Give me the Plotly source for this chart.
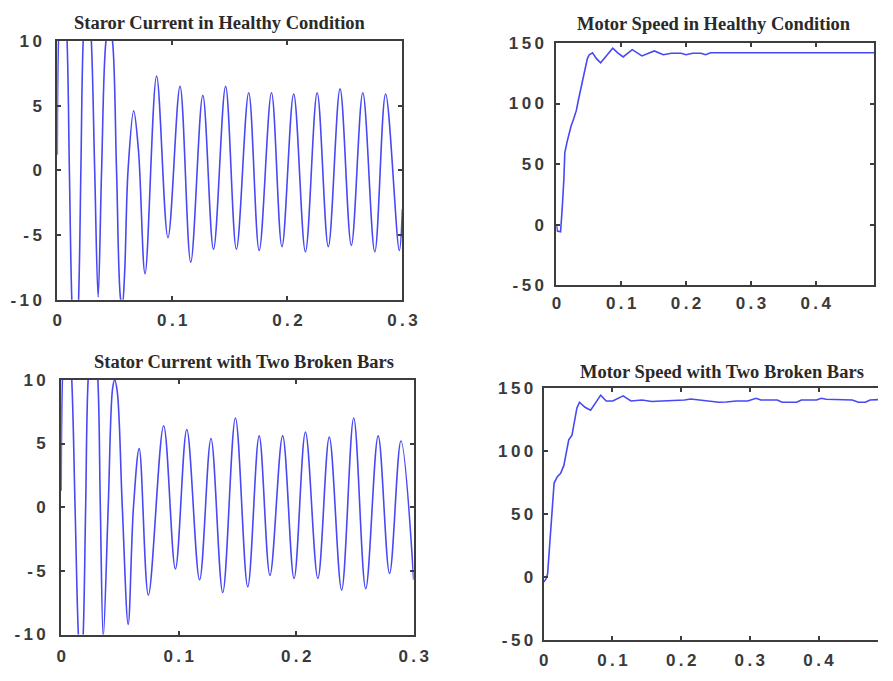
import plotly.graph_objects as go

W, H = 893, 681

# ---------------- data ----------------
cur_healthy_t = [0, 0.001, 0.0045, 0.0085, 0.0105, 0.0126, 0.0155, 0.0185, 0.0205, 0.0225,
                 0.026, 0.0296, 0.0325, 0.0355, 0.0385, 0.0423, 0.0452, 0.048, 0.0515, 0.0551,
                 0.0565, 0.0585, 0.0615, 0.0664, 0.0706, 0.0763, 0.0863, 0.0962, 0.1067, 0.1160,
                 0.1265, 0.1358, 0.1463, 0.1557, 0.1664, 0.1755, 0.1862, 0.1953, 0.2055, 0.2157,
                 0.2259, 0.2356, 0.2458, 0.2556, 0.2656, 0.2760, 0.2854, 0.2973, 0.300]
cur_healthy_i = [1.2, 10, 17, 10, 0, -10, -16, -10, 0, 10,
                 15, 10, 0, -9.8, 0, 10, 11.3, 10, 0, -10,
                 -10.4, -8, 0, 4.6, 1.5, -8.0, 7.3, -5.2, 6.5, -7.1,
                 5.8, -6.1, 6.5, -6.1, 6.0, -6.2, 6.0, -5.9, 5.9, -6.3,
                 6.0, -5.9, 6.3, -5.8, 6.0, -6.3, 5.9, -6.2, -3.0]

cur_broken_t = [0, 0.001, 0.0045, 0.009, 0.0118, 0.0146, 0.0167, 0.0187, 0.0208, 0.0229,
                0.027, 0.0312, 0.0333, 0.0358, 0.040, 0.0437, 0.0455, 0.0478, 0.052, 0.057,
                0.0615, 0.0664, 0.0742, 0.0872, 0.0972, 0.1069, 0.1178, 0.1275, 0.1375, 0.1483,
                0.1588, 0.1685, 0.1777, 0.1885, 0.1982, 0.2079, 0.2185, 0.2282, 0.2387, 0.2490,
                0.2592, 0.2698, 0.2795, 0.2892, 0.300]
cur_broken_i = [1.3, 10, 17, 10, 0, -10, -13, -10, 0, 10,
                15, 10, 0, -10.2, 0, 9.3, 10.0, 9.0, 0, -9.2,
                0, 4.6, -6.9, 6.4, -4.85, 6.1, -5.7, 5.4, -6.7, 7.0,
                -6.25, 5.6, -5.35, 5.6, -5.6, 5.9, -5.6, 5.5, -6.5, 7.0,
                -6.4, 5.6, -5.2, 5.2, -5.7]

spd_healthy_t = [0, 0.0015, 0.0065, 0.0075, 0.009, 0.0116, 0.013, 0.0166, 0.0206, 0.0226,
                 0.0267, 0.0307, 0.0347, 0.0367, 0.0407, 0.0442, 0.0478, 0.0508, 0.0558, 0.0618,
                 0.0683, 0.0769, 0.087, 0.0946, 0.103, 0.117, 0.132, 0.151, 0.165, 0.1775,
                 0.1925, 0.200, 0.210, 0.223, 0.230, 0.238, 0.30, 0.40, 0.49]
spd_healthy_v = [0, -5.4, -5.9, 0, 13.4, 37.6, 59.2, 68.5, 78, 81.2,
                 87.4, 94.1, 104.8, 110.2, 118.3, 129, 137.1, 140.3, 141.9, 137.1,
                 133.6, 139.3, 145.7, 141.9, 138.5, 144.5, 139.3, 143.5, 140.3, 141.6,
                 141.6, 140.3, 141.6, 141.6, 140.3, 141.9, 141.9, 141.9, 141.9]

spd_broken_t = [0, 0.003, 0.0057, 0.008, 0.0104, 0.0128, 0.0152, 0.0199, 0.0247, 0.0294,
                0.0332, 0.0365, 0.0412, 0.0445, 0.0484, 0.0522, 0.0602, 0.0683, 0.0768, 0.083,
                0.091, 0.1005, 0.1157, 0.127, 0.143, 0.1575, 0.172, 0.19, 0.205, 0.214,
                0.225, 0.243, 0.255, 0.266, 0.28, 0.297, 0.309, 0.316, 0.34, 0.347,
                0.368, 0.375, 0.397, 0.404, 0.411, 0.449, 0.458, 0.468, 0.475, 0.4865]
spd_broken_v = [-4, -2, 2.3, 20, 40.4, 63.2, 74.6, 79.7, 82.3, 88.6,
                100, 108.9, 112.7, 124.1, 134.3, 138.8, 134.8, 132.5, 139.4, 144.4,
                139.8, 139.8, 143.9, 139.8, 140.6, 139.4, 139.8, 140.2, 140.6, 141.4,
                140.6, 139.8, 138.8, 139.0, 139.8, 139.8, 141.9, 140.6, 140.6, 138.8,
                138.8, 140.6, 140.6, 141.9, 141.1, 140.6, 138.8, 138.8, 140.6, 140.9]

titles = ["Staror Current in Healthy Condition", "Motor Speed in Healthy Condition",
          "Stator Current with Two Broken Bars", "Motor Speed with Two Broken Bars"]

cur_ticks = [-10, -5, 0, 5, 10]
cur_tick_labels = ["-10", "-5", "0", "5", "10"]
spd_ticks = [-50, 0, 50, 100, 150]
spd_tick_labels = ["-50", "0", "50", "100", "150"]
cur_xticks = [0, 0.1, 0.2, 0.3]
cur_xtick_labels = ["0", "0.1", "0.2", "0.3"]
spd_xticks = [0, 0.1, 0.2, 0.3, 0.4]
spd_xtick_labels = ["0", "0.1", "0.2", "0.3", "0.4"]

# ---------------- layout (pixel boxes) ----------------
def xd(a, b):
    return [a / W, b / W]

def yd(top, bottom):
    return [1 - bottom / H, 1 - top / H]

def spaced(labels):
    # the reference typesets tick labels with wide letter spacing
    return ["\u2009".join(list(s)) for s in labels]

LINE = "rgb(72,72,245)"
FRAME = "#3d3d3d"
tickfont = dict(family="Liberation Sans, Arial", size=17, color="#3a3a3a", weight="bold")

def ax(domain, anchor, rng, tickvals, ticktext, mirror="ticks", standoff=0):
    return dict(domain=domain, anchor=anchor, range=rng, tickvals=tickvals,
                ticktext=spaced(ticktext),
                showline=True, linecolor=FRAME, linewidth=2, mirror=mirror,
                ticks="inside", ticklen=4, tickwidth=1.5, tickcolor=FRAME,
                showgrid=False, zeroline=False, tickfont=tickfont,
                ticklabelstandoff=standoff, fixedrange=True)

fig = go.Figure()
fig.add_trace(go.Scatter(x=cur_healthy_t, y=cur_healthy_i, mode="lines",
                         line=dict(color=LINE, width=1.6, shape="spline"), xaxis="x", yaxis="y"))
fig.add_trace(go.Scatter(x=spd_healthy_t, y=spd_healthy_v, mode="lines",
                         line=dict(color=LINE, width=1.6), xaxis="x2", yaxis="y2"))
fig.add_trace(go.Scatter(x=cur_broken_t, y=cur_broken_i, mode="lines",
                         line=dict(color=LINE, width=1.6, shape="spline"), xaxis="x3", yaxis="y3"))
fig.add_trace(go.Scatter(x=spd_broken_t, y=spd_broken_v, mode="lines",
                         line=dict(color=LINE, width=1.6), xaxis="x4", yaxis="y4"))

fig.update_layout(
    width=W, height=H, autosize=False, showlegend=False,
    margin=dict(l=0, r=0, t=0, b=0),
    paper_bgcolor="white", plot_bgcolor="white",
    xaxis=ax(xd(53.5, 406.5), "y", [0, 0.3], cur_xticks, cur_xtick_labels, standoff=4),
    yaxis=ax(yd(33, 299), "x", [-10, 10], cur_ticks, cur_tick_labels, standoff=10),
    xaxis2=ax(xd(564, 889), "y2", [0, 0.49], spd_xticks, spd_xtick_labels, standoff=2),
    yaxis2=ax(yd(35, 284), "x2", [-50, 150], spd_ticks, spd_tick_labels, standoff=7),
    xaxis3=ax(xd(57.5, 418), "y3", [0, 0.3], cur_xticks, cur_xtick_labels, standoff=5),
    yaxis3=ax(yd(381.5, 643.5), "x3", [-10, 10], cur_ticks, cur_tick_labels, standoff=10),
    xaxis4=ax(xd(551, 893), "y4", [0, 0.4865], spd_xticks, spd_xtick_labels, standoff=4),
    yaxis4=ax(yd(390, 649), "x4", [-50, 150], spd_ticks, spd_tick_labels, mirror=False, standoff=5),
)

title_pos = [(220, 14), (725, 15), (244, 363), (733, 373)]
for txt, (cx, cy) in zip(titles, title_pos):
    fig.add_annotation(text=txt, xref="paper", yref="paper", x=cx / W, y=1 - cy / H,
                       xanchor="center", yanchor="middle", showarrow=False,
                       font=dict(family="Liberation Serif, Times New Roman", size=18.5,
                                 color="#2a2a2a", weight="bold"))

fig.write_html("out.html", config={"displayModeBar": False},
               post_script="document.body.style.margin='0';document.body.style.overflow='hidden';")
